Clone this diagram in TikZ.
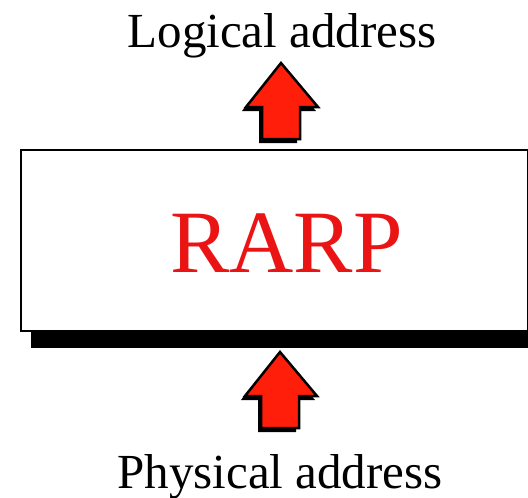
\documentclass[tikz,border=0pt]{standalone}
\usepackage{fontspec}
\setmainfont{Liberation Serif}
\definecolor{arrowred}{RGB}{255,30,10}
\definecolor{rarpred}{RGB}{235,20,20}
\tikzset{
  label text/.style={inner sep=0pt, anchor=base, font=\fontsize{49}{49}\selectfont},
  blockarrow/.pic={
    \fill[black] (-3,4) -- (-39,48) -- (-22,48) -- (-22,80) -- (16,80) -- (16,48) -- (35,48) -- cycle;
    \filldraw[fill=arrowred, draw=black, line width=2.5pt, line join=miter]
      (0,0) -- (-35,44) -- (-19,44) -- (-19,76) -- (19,76) -- (19,44) -- (37,44) -- cycle;
  }
}
\begin{document}
\begin{tikzpicture}[x=1pt, y=-1pt]
\useasboundingbox (0,0) rectangle (528,498);
\clip (0,0) rectangle (528,498);
% shadow and box
\fill[black] (31,160) rectangle (545,348);
\node (box) [draw=black, fill=white, line width=1.8pt, inner sep=0pt,
  minimum width=507pt, minimum height=181pt, anchor=north west] at (20,149) {};
\node (rarp) [inner sep=0pt, anchor=base, text=rarpred, font=\fontsize{89}{89}\selectfont] at (286.5,272) {RARP};
% labels
\node (logical) [label text] at (282,47) {Logical address};
\node (physical) [label text] at (280,488) {Physical address};
% block arrows
\pic (uparrow) at (281,63) {blockarrow};
\pic (downarrow) at (280,352) {blockarrow};
\end{tikzpicture}
\end{document}
